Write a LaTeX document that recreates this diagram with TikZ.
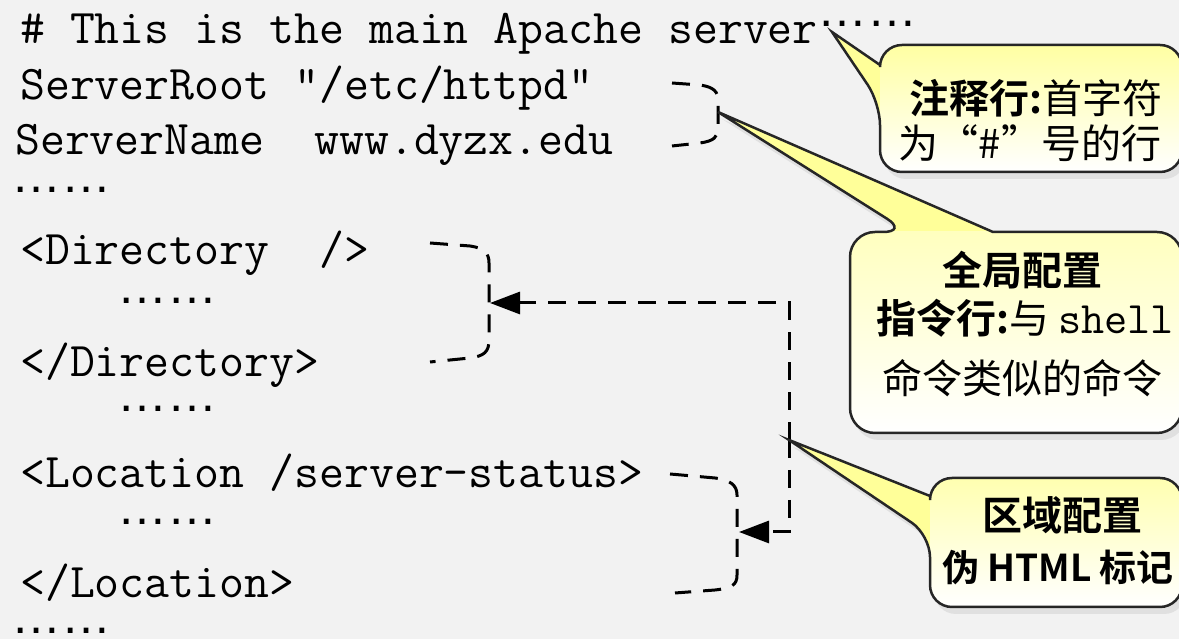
\documentclass[tikz,border=0pt]{standalone}
\usepackage{fontspec}
\newfontfamily\codefont{Latin Modern Mono}
\newfontfamily\dotfont{Liberation Sans}
\newfontfamily\cjk[BoldFont={Noto Sans CJK SC Bold}]{Noto Sans CJK SC}
\usetikzlibrary{arrows.meta,shadows}
\definecolor{bgc}{RGB}{242,242,242}
\definecolor{tipyellow}{RGB}{255,255,153}
\tikzset{
	codeline/.style={anchor=base west, inner sep=0pt, font=\codefont\fontsize{48.4}{56}\selectfont},
	dotline/.style={anchor=base west, inner sep=0pt, font=\dotfont\fontsize{50}{56}\selectfont},
	tiptext/.style={inner sep=0pt, font=\cjk\fontsize{40}{46}\selectfont},
	bracket/.style={line width=3pt, dash pattern=on 18pt off 12pt},
	balloon/.style={draw=black!85, line width=2.5pt, fill=tipyellow,
		drop shadow={shadow xshift=4pt, shadow yshift=-7pt, fill=black!12, opacity=1}},
	boxshade/.style={top color=tipyellow, middle color=tipyellow!30, bottom color=white}
}
\newcommand{\dotrow}{……}

\begin{document}
\begin{tikzpicture}[x=1pt, y=1pt, >={Triangle[length=30pt, width=22pt]}]
		\fill[bgc] (0,0) rectangle (1179,639);
		\useasboundingbox (0,0) rectangle (1179,639);
		% the config lines
		\path (20,595) node[codeline](comment){\# This is the main Apache server{\dotfont\fontsize{50}{56}\selectfont\raisebox{17pt}{\dotrow}}}
		(20,539) node[codeline](root){ServerRoot “/etc/httpd”}
		(15,484) node[codeline](name){ServerName\ \ www.dyzx.edu}
		(11,446) node[dotline](dotsA){\dotrow}
		(20,374) node[codeline](diropen){<Directory\ \ />}
		(117,335) node[dotline](dotsB){\dotrow}
		(20,262) node[codeline](dirclose){</Directory>}
		(117,227) node[dotline](dotsC){\dotrow}
		(20,151) node[codeline](locopen){<Location /server-status>}
		(117,114) node[dotline](dotsD){\dotrow}
		(20,41) node[codeline](locclose){</Location>}
		(11,5) node[dotline](dotsE){\dotrow};
		
		\coordinate (globtip) at (718,527);
		\coordinate (dirtip) at (490,336);
		\coordinate (loctip) at (739,107);
		\coordinate (hub) at (789,199);
		\coordinate (hubtop) at (789,336);
		\coordinate (hubbot) at (789,107);
		\coordinate (cmttip) at (832,607);
		
		% dashed brackets
		\draw[bracket] (672,556) -- (700,554) .. controls (714,552) and (718,547) .. (718,539) -- (718,511) .. controls (718,502) and (714,498) .. (700,496) -- (672,493);
		\draw[bracket] (430,396) -- (470,393) .. controls (484,391) and (489,386) .. (489,376) -- (489,299) .. controls (489,287) and (484,283) .. (470,281) -- (430,277);
		\draw[bracket] (670,165) -- (715,161) .. controls (730,159) and (737,154) .. (737,144) -- (737,64) .. controls (737,54) and (732,51) .. (715,49) -- (675,46);
		\draw[bracket, ->] (hub) -- (hubtop) -- (dirtip);
		\draw[bracket, ->] (hub) -- (hubbot) -- (loctip);
		
		% balloons
		\draw[balloon, path picture={\shade[boxshade] (880,594) rectangle (1182,467);}]
			(880,574) [rounded corners=22pt] -- (880,594) -- (1182,594) -- (1182,467) -- (880,467) -- (880,536) [sharp corners] -- (cmttip) -- cycle;
		\draw[balloon, path picture={\shade[boxshade] (850,407) rectangle (1182,206);}]
			(993,407) [rounded corners=25pt] -- (1182,407) -- (1182,206) -- (850,206) -- (850,407) -- (908,407) [sharp corners] -- (globtip) -- cycle;
		\draw[balloon, path picture={\shade[boxshade] (930,161) rectangle (1182,32);}]
			(930,143) [rounded corners=22pt] -- (930,161) -- (1182,161) -- (1182,32) -- (930,32) -- (930,104) [sharp corners] -- (hub) -- cycle;
		
		\path (1036,541) node[tiptext](cmtA){\textbf{注释行:}首字符}
		(1030,496) node[tiptext](cmtB){为“\#”号的行}
		(1022,369) node[tiptext](globA){\textbf{全局配置}}
		(1025,321) node[tiptext](globB){\textbf{指令行:}与 {\codefont\fontsize{45}{50}\selectfont shell}}
		(1022,261) node[tiptext](globC){命令类似的命令}
		(1062,124) node[tiptext](areaA){\textbf{区域配置}}
		(1058,71) node[tiptext, font=\cjk\fontsize{37}{44}\selectfont](areaB){\textbf{伪 HTML 标记}};
		
	\end{tikzpicture}
\end{document}
